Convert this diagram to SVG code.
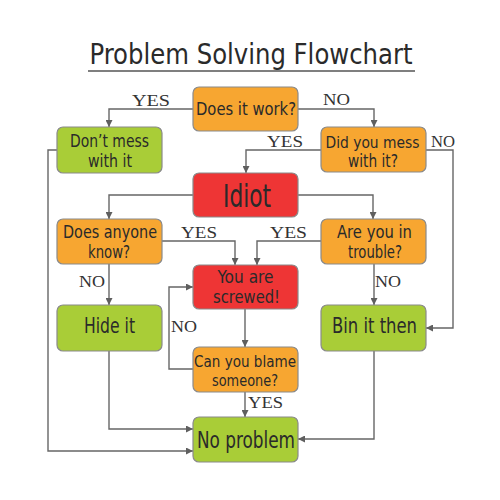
<svg xmlns="http://www.w3.org/2000/svg" width="500" height="500" viewBox="0 0 500 500">
<defs>
<marker id="arr" viewBox="0 0 10 10" refX="10" refY="5" markerWidth="7" markerHeight="7" markerUnits="userSpaceOnUse" orient="auto">
<path d="M0,0 L10,5 L0,10 z" fill="#5f5f5f"/>
</marker>
<style>
.box{stroke:#8a8a8a;stroke-width:1.2}
.o{fill:#F7A631}
.g{fill:#A9CD37}
.r{fill:#EE3535}
.t{font-family:"DejaVu Sans Condensed","Liberation Sans Narrow","Liberation Sans",sans-serif;fill:#2a2a2a;text-anchor:middle}
.lbl{font-family:"Liberation Serif","Times New Roman",serif;font-size:16px;fill:#333}
.c{fill:none;stroke:#666;stroke-width:1.4;marker-end:url(#arr)}
</style>
</defs>
<rect width="500" height="500" fill="#fff"/>
<g id="title">
<text x="251" y="64" class="t" font-size="28" textLength="323" lengthAdjust="spacingAndGlyphs">Problem Solving Flowchart</text>
<line x1="88" y1="71" x2="415" y2="71" stroke="#555" stroke-width="1.5"/>
</g>
<g id="connectors">
<path class="c" d="M193,109 H109 V127"/>
<path class="c" d="M298,109 H374 V127"/>
<path class="c" d="M321,150 H246 V173"/>
<path class="c" d="M426,150 H453 V328 H426"/>
<path class="c" d="M57,150 H48 V451 H193"/>
<path class="c" d="M193,195 H109 V219"/>
<path class="c" d="M298,195 H373 V219"/>
<path class="c" d="M162,241 H235 V265"/>
<path class="c" d="M321,241 H257 V265"/>
<path class="c" d="M109,264 V305"/>
<path class="c" d="M374,264 V305"/>
<path class="c" d="M245,309 V347"/>
<path class="c" d="M193,369 H169 V287 H193"/>
<path class="c" d="M245,392 V417"/>
<path class="c" d="M109,351 V429 H193"/>
<path class="c" d="M374,351 V439 H298"/>
<text class="lbl" x="132" y="106" textLength="38" lengthAdjust="spacingAndGlyphs">YES</text>
<text class="lbl" x="323" y="105" textLength="27" lengthAdjust="spacingAndGlyphs">NO</text>
<text class="lbl" x="267" y="147" textLength="36" lengthAdjust="spacingAndGlyphs">YES</text>
<text class="lbl" x="431" y="147" textLength="24" lengthAdjust="spacingAndGlyphs">NO</text>
<text class="lbl" x="181" y="238" textLength="36" lengthAdjust="spacingAndGlyphs">YES</text>
<text class="lbl" x="270" y="238" textLength="37" lengthAdjust="spacingAndGlyphs">YES</text>
<text class="lbl" x="79" y="287" textLength="26" lengthAdjust="spacingAndGlyphs">NO</text>
<text class="lbl" x="375" y="287" textLength="26" lengthAdjust="spacingAndGlyphs">NO</text>
<text class="lbl" x="171" y="332" textLength="26" lengthAdjust="spacingAndGlyphs">NO</text>
<text class="lbl" x="248" y="408" textLength="35" lengthAdjust="spacingAndGlyphs">YES</text>
</g>
<g id="does-it-work">
<rect class="box o" x="193" y="87" width="105" height="44" rx="6"/>
<text class="t" x="246" y="115" font-size="18" textLength="100" lengthAdjust="spacingAndGlyphs">Does it work?</text>
</g>
<g id="dont-mess">
<rect class="box g" x="57" y="127" width="105" height="46" rx="6"/>
<text class="t" x="109.5" y="147" font-size="18" textLength="79" lengthAdjust="spacingAndGlyphs">Don’t mess</text>
<text class="t" x="110" y="167" font-size="18" textLength="44" lengthAdjust="spacingAndGlyphs">with it</text>
</g>
<g id="did-you-mess">
<rect class="box o" x="321" y="127" width="105" height="45" rx="6"/>
<text class="t" x="372.5" y="148" font-size="16" textLength="94" lengthAdjust="spacingAndGlyphs">Did you mess</text>
<text class="t" x="373" y="167" font-size="18" textLength="50" lengthAdjust="spacingAndGlyphs">with it?</text>
</g>
<g id="idiot">
<rect class="box r" x="193" y="173" width="105" height="44" rx="6"/>
<text class="t" x="247" y="207" font-size="32" textLength="48" lengthAdjust="spacingAndGlyphs">Idiot</text>
</g>
<g id="does-anyone-know">
<rect class="box o" x="57" y="219" width="105" height="45" rx="6"/>
<text class="t" x="110" y="238" font-size="17" textLength="94" lengthAdjust="spacingAndGlyphs">Does anyone</text>
<text class="t" x="109" y="258" font-size="17" textLength="42" lengthAdjust="spacingAndGlyphs">know?</text>
</g>
<g id="are-you-in-trouble">
<rect class="box o" x="321" y="219" width="105" height="45" rx="6"/>
<text class="t" x="374.5" y="238" font-size="17" textLength="75" lengthAdjust="spacingAndGlyphs">Are you in</text>
<text class="t" x="375" y="258" font-size="17" textLength="54" lengthAdjust="spacingAndGlyphs">trouble?</text>
</g>
<g id="screwed">
<rect class="box r" x="193" y="265" width="105" height="44" rx="6"/>
<text class="t" x="245.5" y="283" font-size="17" textLength="56" lengthAdjust="spacingAndGlyphs">You are</text>
<text class="t" x="246.5" y="303" font-size="17" textLength="67" lengthAdjust="spacingAndGlyphs">screwed!</text>
</g>
<g id="hide-it">
<rect class="box g" x="57" y="305" width="105" height="46" rx="6"/>
<text class="t" x="109.5" y="333" font-size="21" textLength="51" lengthAdjust="spacingAndGlyphs">Hide it</text>
</g>
<g id="bin-it-then">
<rect class="box g" x="321" y="305" width="105" height="46" rx="6"/>
<text class="t" x="374.5" y="333" font-size="21" textLength="85" lengthAdjust="spacingAndGlyphs">Bin it then</text>
</g>
<g id="can-you-blame">
<rect class="box o" x="193" y="347" width="105" height="45" rx="6"/>
<text class="t" x="245" y="367" font-size="16" textLength="102" lengthAdjust="spacingAndGlyphs">Can you blame</text>
<text class="t" x="245" y="386" font-size="16" textLength="66" lengthAdjust="spacingAndGlyphs">someone?</text>
</g>
<g id="no-problem">
<rect class="box g" x="193" y="417" width="105" height="45" rx="6"/>
<text class="t" x="246" y="448" font-size="23" textLength="98" lengthAdjust="spacingAndGlyphs">No problem</text>
</g>
</svg>
